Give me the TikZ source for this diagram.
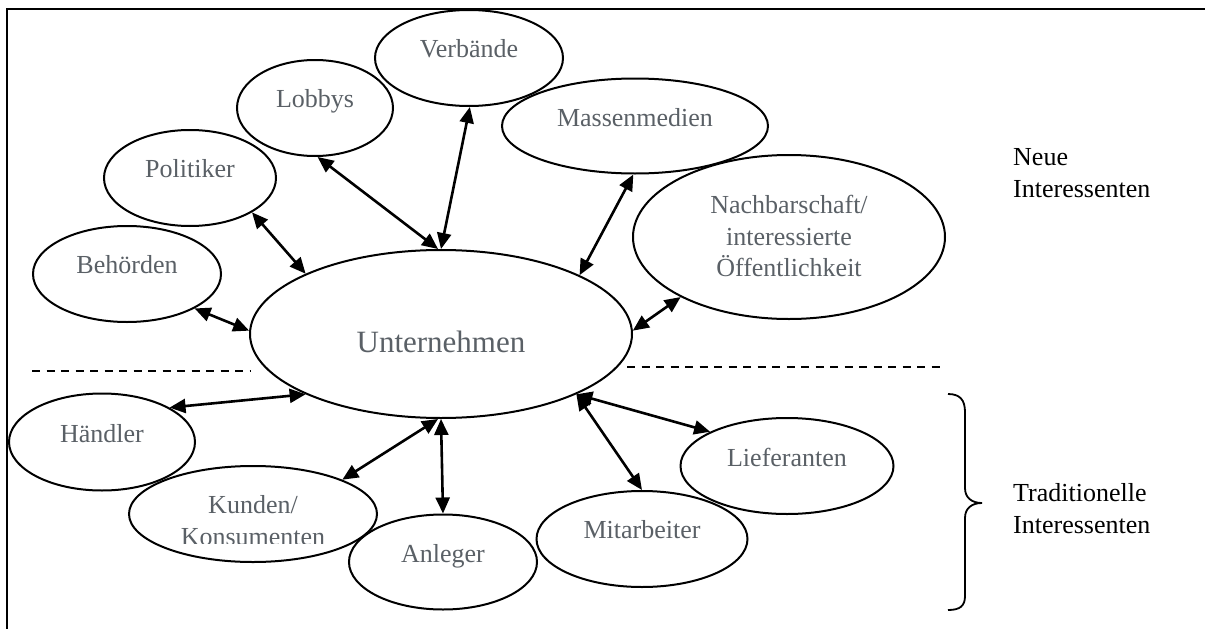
\documentclass[tikz,border=0pt]{standalone}
\usepackage{fontspec}
\setmainfont{Liberation Serif}
\usetikzlibrary{arrows.meta,shapes.geometric}
\definecolor{lbl}{RGB}{90,96,102}
\tikzset{
  ell/.style={draw, ellipse, line width=2pt, inner sep=0pt},
  lab/.style={text=lbl, font=\fontsize{26}{31.5}\selectfont, align=center, inner sep=0pt},
  side/.style={text=black, font=\fontsize{26}{32}\selectfont, align=left, inner sep=0pt, anchor=west},
  link/.style={line width=2.6pt, {Triangle[length=16pt,width=14pt]}-{Triangle[length=16pt,width=14pt]}},
  sep/.style={line width=1.8pt, dash pattern=on 8pt off 6.5pt}
}
\begin{document}
\begin{tikzpicture}[x=1pt,y=-1pt]
\useasboundingbox (0,0) rectangle (1205,629);
% frame
\draw[line width=2.5pt] (1205,9) -- (7,9) -- (7,629);
% ellipses
\node[ell, minimum width=382pt, minimum height=168pt] (unt) at (441,334) {};
\node[ell, minimum width=188pt, minimum height=96pt] (beh) at (127,274) {};
\node[ell, minimum width=172pt, minimum height=96pt] (pol) at (190,178) {};
\node[ell, minimum width=156pt, minimum height=96pt] (lob) at (315,108) {};
\node[ell, minimum width=188pt, minimum height=96pt] (ver) at (469,58) {};
\node[ell, minimum width=266pt, minimum height=95pt] (mas) at (635,126) {};
\node[ell, minimum width=312pt, minimum height=164pt] (nac) at (789,237) {};
\node[ell, minimum width=186pt, minimum height=97pt] (han) at (102,442) {};
\node[ell, minimum width=248pt, minimum height=96pt] (kun) at (253,514) {};
\node[ell, minimum width=188pt, minimum height=95pt] (anl) at (443,562) {};
\node[ell, minimum width=211pt, minimum height=96pt] (mit) at (642,539) {};
\node[ell, minimum width=213pt, minimum height=96pt] (lie) at (787,466) {};
% labels
\node[lab, font=\fontsize{31}{36}\selectfont, anchor=base] (tunt) at (441,352) {Unternehmen};
\node[lab, anchor=base] (tbeh) at (127,273) {Behörden};
\node[lab, anchor=base] (tpol) at (190,177) {Politiker};
\node[lab, anchor=base] (tlob) at (315,107) {Lobbys};
\node[lab, anchor=base] (tver) at (469,57) {Verbände};
\node[lab, anchor=base] (tmas) at (635,126) {Massenmedien};
\node[lab] (tnac) at (789,236) {Nachbarschaft/\\interessierte\\Öffentlichkeit};
\node[lab, anchor=base] (than) at (102,442) {Händler};
\begin{scope}
\clip (0,0) rectangle (1205,543);
\node[lab, font=\fontsize{26}{32}\selectfont] (tkun) at (253,521) {Kunden/\\Konsumenten};
\end{scope}
\node[lab, anchor=base] (tanl) at (443,562) {Anleger};
\node[lab, anchor=base] (tmit) at (642,538) {Mitarbeiter};
\node[lab, anchor=base] (tlie) at (787,466) {Lieferanten};
% connectors
\draw[link] (beh.-27) -- (unt.179);
\draw[link] (pol.-29) -- (unt.156);
\draw[link] (lob.-87) -- (unt.92);
\draw[link] (ver.-89) -- (unt.90);
\draw[link] (mas.-92) -- (unt.23.5);
\draw[link] (nac.-151) -- (unt.1);
\draw[link] (han.27) -- (unt.-156.5);
\draw[link] (kun.21) -- (unt.-92);
\draw[link] (anl.90) -- (unt.-90);
\draw[link] (mit.90) -- (unt.-24);
\draw[link] (lie.156) -- (unt.-24.5);
% separators
\draw[sep] (32,371) -- (250,371);
\draw[sep] (627,367) -- (942,367);
% brace
\draw[line width=1.8pt] (948,394) .. controls (960,394) and (965,400) .. (965,412) -- (965,488)
  .. controls (965,498) and (972,503) .. (982,503)
  .. controls (972,503) and (965,508) .. (965,518) -- (965,596)
  .. controls (965,606) and (960,610) .. (948,610);
% side labels
\node[side] (neue) at (1013,173) {Neue\\Interessenten};
\node[side] (trad) at (1013,509) {Traditionelle\\Interessenten};
\end{tikzpicture}
\end{document}
